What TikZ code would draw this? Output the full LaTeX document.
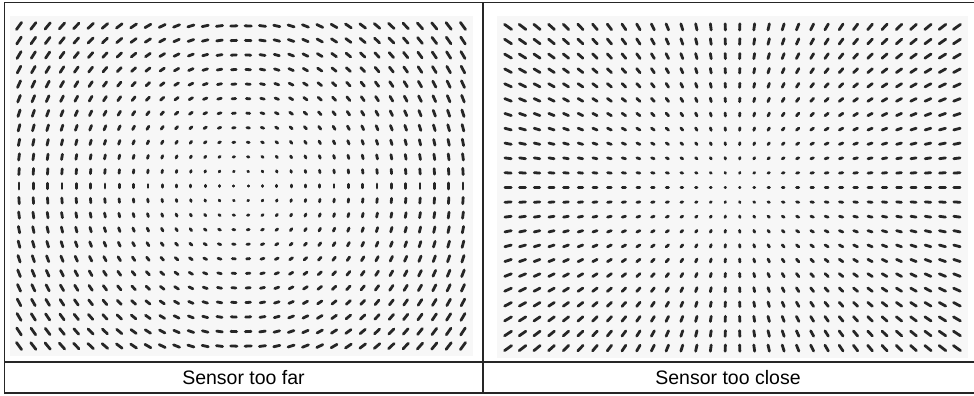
\documentclass[tikz,border=0pt]{standalone}
\usepackage{fontspec}
\setmainfont{Liberation Sans}
\usetikzlibrary{positioning}

\begin{document}
\begin{tikzpicture}[
  x=1pt, y=-1pt,
  frame/.style={draw=black!85, line width=1.8pt},
  field/.style={fill=black!3, draw=none},
  tick/.style={draw=black!85, line width=2.8pt, line cap=round},
  every node/.style={font=\fontsize{19.5}{22}\selectfont, inner sep=0pt}
]
\useasboundingbox (0,0) rectangle (974,396);
\clip (0,0) rectangle (974,396);

% grey ground behind the two fields
\fill[field] (10,16) rectangle (473,356);
\fill[field] (497,16) rectangle (968,358);

% left field: ticks turn round the centre
\foreach \i in {0,...,31}
  \foreach \j in {0,...,22}{
    \pgfmathsetmacro\ox{(\i-15.5)*14.32}
    \pgfmathsetmacro\oy{(\j-11)*14.55}
    \pgfmathsetmacro\r{sqrt(((\i-15.5)/15.5)^2+((\j-11)/11)^2)}
    \pgfmathsetmacro\h{0.2+2.9*\r}
    \pgfmathsetmacro\a{atan2(\oy,\ox)+90}
    \pgfmathsetmacro\ax{\h*cos(\a)}
    \pgfmathsetmacro\ay{\h*sin(\a)}
    \draw[tick] ({241+\ox-(\ax)},{186+\oy-(\ay)}) -- ({241+\ox+(\ax)},{186+\oy+(\ay)});
  }

% right field: ticks point away from the centre
\foreach \i in {0,...,31}
  \foreach \j in {0,...,22}{
    \pgfmathsetmacro\ox{(\i-15.5)*14.48}
    \pgfmathsetmacro\oy{(\j-11)*14.6}
    \pgfmathsetmacro\r{sqrt(((\i-15.5)/15.5)^2+((\j-11)/11)^2)}
    \pgfmathsetmacro\h{0.2+2.9*\r}
    \pgfmathsetmacro\a{atan2(\oy,\ox)}
    \pgfmathsetmacro\ax{\h*cos(\a)}
    \pgfmathsetmacro\ay{\h*sin(\a)}
    \draw[tick] ({732.5+\ox-(\ax)},{187.5+\oy-(\ay)}) -- ({732.5+\ox+(\ax)},{187.5+\oy+(\ay)});
  }

% table lines
\coordinate (tl) at (4.5,2.5);
\coordinate (br) at (980,393);
\coordinate (ml) at (4.5,362);
\coordinate (mr) at (980,362);
\coordinate (dt) at (483,2.5);
\coordinate (db) at (483,393);
\draw[frame] (tl) rectangle (br);
\draw[frame] (ml) -- (mr);
\draw[frame] (dt) -- (db);

\node (far) at (243.5,378) {Sensor too far};
\node (close) at (728,378) {Sensor too close};
\end{tikzpicture}
\end{document}
